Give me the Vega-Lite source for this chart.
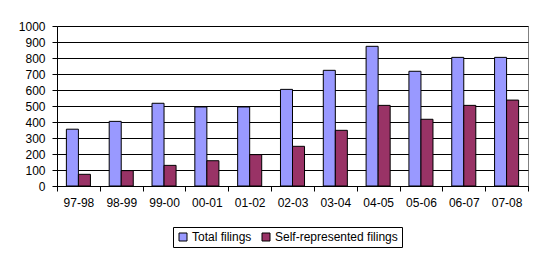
{
  "$schema": "https://vega.github.io/schema/vega-lite/v6.json",
  "autosize": "none",
  "width": 471,
  "height": 160,
  "padding": {"left": 57, "top": 26, "right": 17, "bottom": 70},
  "background": "white",
  "config": {
    "font": "Liberation Sans",
    "view": {"stroke": "#808080", "strokeWidth": 1},
    "axis": {"labelFont": "Liberation Sans", "labelFontSize": 12, "labelColor": "black", "domainColor": "black", "tickColor": "black", "gridColor": "black", "gridOpacity": 1, "tickSize": 5, "domainWidth": 1, "tickWidth": 1, "gridWidth": 1}
  },
  "data": {
    "values": [
      {"year": "97-98", "series": "Total filings", "value": 355},
      {"year": "97-98", "series": "Self-represented filings", "value": 73},
      {"year": "98-99", "series": "Total filings", "value": 404},
      {"year": "98-99", "series": "Self-represented filings", "value": 96},
      {"year": "99-00", "series": "Total filings", "value": 517},
      {"year": "99-00", "series": "Self-represented filings", "value": 129},
      {"year": "00-01", "series": "Total filings", "value": 494},
      {"year": "00-01", "series": "Self-represented filings", "value": 158},
      {"year": "01-02", "series": "Total filings", "value": 494},
      {"year": "01-02", "series": "Self-represented filings", "value": 196},
      {"year": "02-03", "series": "Total filings", "value": 604},
      {"year": "02-03", "series": "Self-represented filings", "value": 248},
      {"year": "03-04", "series": "Total filings", "value": 723},
      {"year": "03-04", "series": "Self-represented filings", "value": 348},
      {"year": "04-05", "series": "Total filings", "value": 873},
      {"year": "04-05", "series": "Self-represented filings", "value": 504},
      {"year": "05-06", "series": "Total filings", "value": 717},
      {"year": "05-06", "series": "Self-represented filings", "value": 417},
      {"year": "06-07", "series": "Total filings", "value": 804},
      {"year": "06-07", "series": "Self-represented filings", "value": 504},
      {"year": "07-08", "series": "Total filings", "value": 804},
      {"year": "07-08", "series": "Self-represented filings", "value": 537}
    ]
  },
  "mark": {"type": "bar", "stroke": "black", "strokeWidth": 1},
  "encoding": {
    "x": {
      "field": "year", "type": "nominal", "sort": null, "title": null,
      "scale": {"paddingInner": 0, "paddingOuter": 0},
      "axis": {"labelAngle": 0, "tickBand": "extent", "labelPadding": 6, "grid": false}
    },
    "xOffset": {
      "field": "series", "type": "nominal",
      "sort": ["Total filings", "Self-represented filings"],
      "scale": {"paddingInner": 0, "paddingOuter": 0.78}
    },
    "y": {
      "field": "value", "type": "quantitative", "title": null,
      "scale": {"domain": [0, 1000], "nice": false},
      "axis": {"values": [0,100,200,300,400,500,600,700,800,900,1000], "format": "d", "labelPadding": 7, "grid": true}
    },
    "color": {
      "field": "series", "type": "nominal",
      "sort": ["Total filings", "Self-represented filings"],
      "scale": {"domain": ["Total filings", "Self-represented filings"], "range": ["#9999FF", "#993366"]},
      "legend": {
        "title": null, "orient": "none", "legendX": 116, "legendY": 201,
        "direction": "horizontal", "symbolType": "square", "symbolSize": 64,
        "symbolStrokeColor": "black", "symbolStrokeWidth": 1, "symbolOpacity": 1,
        "labelFont": "Liberation Sans", "labelFontSize": 12, "labelColor": "black",
        "labelOffset": 3, "columnPadding": 8, "padding": 4,
        "strokeColor": "black", "fillColor": "white"
      }
    }
  }
}
